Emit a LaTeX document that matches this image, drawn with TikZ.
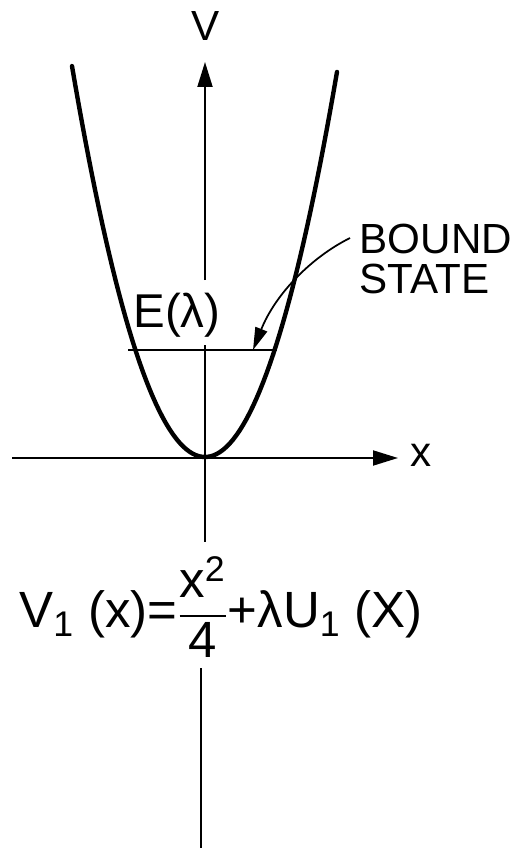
\documentclass[tikz,border=0pt]{standalone}
\usepackage{amsmath}
\usepackage{fontspec}
\setmainfont{Liberation Sans}
\usetikzlibrary{arrows.meta}

\begin{document}
\begin{tikzpicture}[
  x=0.02cm, y=-0.02cm,
  axis/.style={line width=1.1pt},
  axisarr/.style={-{Triangle[length=0.5cm, width=0.3cm]}, line width=1.1pt},
  curve/.style={line width=2.5pt, line cap=round},
  arr/.style={-{Triangle[length=0.45cm, width=0.25cm]}, line width=1pt},
  lbl/.style={font=\fontsize{24}{23}\selectfont, inner sep=0pt, align=left}
]
\useasboundingbox (0,0) rectangle (516,851);

\coordinate (vtip) at (205,62);
\coordinate (vtop) at (205,280);
\coordinate (vmid) at (205,345);
\coordinate (vbot) at (205,542);
\coordinate (vlow) at (201,668);
\coordinate (vend) at (201,848);
\coordinate (xleft) at (12,458);
\coordinate (xtip) at (398,458);
\coordinate (elft) at (128,350);
\coordinate (ergt) at (277,350);
\coordinate (bsfrom) at (350,238);
\coordinate (bsto) at (253,350);

\node[lbl] (vlab) at (206,26) {V};
\node[lbl] (xlab) at (421,455) {x};
\node[lbl, font=\fontsize{27}{27}\selectfont] (elab) at (177,315) {E(λ)};
\node[lbl] (bs) at (436,259) {BOUND\\STATE};
\node[lbl, font=\fontsize{29}{31}\selectfont] (eqn) at (221,607)
  {V\textsubscript{1} (x)=$\dfrac{\text{x}^{\text{2}}}{\text{4}}$+λU\textsubscript{1} (X)};

\draw[axisarr] (vtop) -- (vtip);
\draw[axis] (vmid) -- (vbot);
\draw[axis] (vlow) -- (vend);
\draw[axisarr] (xleft) -- (xtip);
\draw[axis] (elft) -- (ergt);
\draw[curve] plot[domain=-133:132, samples=80] ({205+\x},{457-221*(\x/100)*(\x/100)});
\draw[arr] (bsfrom) .. controls (310,258) and (275,295) .. (bsto);
\end{tikzpicture}
\end{document}
